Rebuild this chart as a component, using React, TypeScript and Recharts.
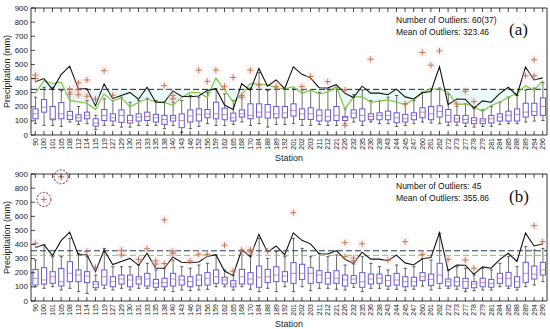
import {
  Area,
  Bar,
  ComposedChart,
  Line,
  ReferenceLine,
  XAxis,
  YAxis,
} from "recharts";

const FONT = '"Liberation Sans", Arial, sans-serif';

const stations = ["90", "100", "101", "105", "108", "112", "114", "115", "119", "127", "129", "130", "131", "133", "135", "138", "140", "143", "146", "152", "156", "159", "162", "165", "168", "170", "184", "188", "189", "192", "201", "202", "203", "211", "212", "221", "226", "232", "235", "236", "238", "243", "244", "245", "247", "260", "261", "262", "272", "273", "277", "278", "279", "281", "284", "285", "288", "289", "294", "296"];

// black line, same in both panels
const maxLine = [378, 400, 322, 428, 488, 328, 328, 208, 362, 258, 280, 302, 253, 338, 232, 232, 312, 275, 271, 276, 316, 328, 212, 181, 363, 316, 472, 346, 390, 328, 483, 430, 405, 335, 333, 357, 296, 265, 346, 297, 297, 285, 325, 270, 255, 299, 308, 483, 215, 255, 253, 190, 242, 232, 293, 338, 280, 481, 390, 405];

// green line, panel (a)
const greenA = [295, 385, 365, 375, 245, 235, 225, 180, 290, 240, 265, 200, 230, 255, 235, 230, 210, 265, 300, 300, 265, 405, 320, 235, 285, 365, 360, 355, 335, 326, 343, 296, 319, 291, 303, 343, 185, 268, 272, 232, 240, 249, 232, 216, 249, 303, 326, 326, 303, 216, 221, 202, 167, 209, 232, 268, 296, 350, 315, 385];

const lowA = [80, 68, 68, 61, 92, 75, 80, 38, 68, 68, 56, 56, 68, 68, 68, 45, 68, 20, 45, 61, 80, 68, 68, 75, 92, 68, 80, 56, 75, 75, 80, 68, 68, 75, 68, 68, 80, 92, 68, 92, 80, 80, 61, 68, 80, 92, 85, 80, 68, 68, 61, 56, 61, 61, 75, 80, 80, 92, 99, 103];
const q1A = [115, 162, 108, 115, 110, 99, 115, 63, 103, 99, 89, 85, 99, 103, 92, 75, 99, 52, 92, 99, 122, 115, 108, 99, 127, 115, 127, 120, 122, 122, 134, 110, 110, 99, 99, 103, 103, 122, 99, 108, 108, 108, 87, 92, 108, 122, 108, 127, 92, 92, 85, 80, 80, 85, 99, 99, 99, 127, 139, 139];
const medA = [150, 197, 115, 150, 139, 122, 139, 85, 139, 122, 139, 103, 127, 131, 122, 110, 120, 103, 134, 146, 150, 150, 146, 122, 150, 139, 162, 162, 150, 157, 174, 150, 150, 139, 131, 139, 122, 155, 139, 131, 139, 139, 122, 115, 139, 162, 150, 167, 139, 115, 110, 103, 99, 115, 127, 139, 146, 162, 167, 202];
const q3A = [185, 251, 202, 230, 167, 143, 162, 115, 181, 150, 178, 139, 150, 162, 146, 139, 139, 150, 178, 185, 181, 232, 190, 155, 178, 221, 221, 216, 202, 202, 221, 185, 193, 178, 178, 202, 131, 178, 185, 150, 157, 169, 157, 146, 157, 193, 202, 207, 181, 139, 139, 122, 115, 139, 150, 169, 185, 225, 225, 263];
const highA = [268, 338, 338, 315, 303, 202, 244, 139, 256, 244, 268, 232, 244, 260, 244, 232, 232, 244, 280, 268, 303, 326, 291, 244, 280, 333, 444, 315, 333, 326, 326, 319, 315, 303, 326, 333, 185, 286, 319, 244, 240, 268, 280, 221, 244, 303, 326, 333, 291, 202, 221, 185, 178, 202, 232, 268, 280, 319, 333, 373];

const lowB = [100, 90, 101, 78, 90, 66, 54, 78, 90, 78, 90, 78, 90, 90, 78, 78, 66, 78, 73, 78, 83, 101, 101, 78, 101, 83, 66, 90, 66, 101, 66, 101, 73, 90, 90, 83, 78, 97, 66, 90, 90, 83, 83, 73, 83, 106, 78, 90, 90, 83, 66, 73, 78, 78, 101, 90, 78, 101, 113, 137];
const q1B = [113, 120, 125, 106, 137, 137, 130, 94, 113, 101, 120, 101, 120, 106, 97, 101, 106, 113, 101, 109, 113, 125, 120, 101, 120, 120, 97, 130, 137, 137, 125, 153, 125, 130, 120, 125, 106, 125, 97, 120, 125, 106, 113, 101, 106, 144, 109, 125, 106, 106, 90, 94, 101, 97, 125, 106, 97, 132, 156, 184];
const medB = [160, 149, 172, 137, 196, 184, 177, 120, 172, 137, 156, 149, 156, 156, 125, 130, 156, 149, 137, 149, 161, 172, 149, 120, 172, 156, 168, 172, 184, 177, 196, 196, 196, 184, 161, 161, 149, 156, 137, 156, 161, 144, 149, 137, 137, 172, 153, 184, 137, 137, 137, 120, 130, 125, 161, 161, 137, 196, 191, 220];
const q3B = [224, 236, 208, 231, 279, 220, 208, 137, 220, 172, 184, 184, 172, 196, 153, 161, 196, 177, 172, 184, 201, 220, 168, 144, 224, 201, 248, 224, 243, 208, 272, 260, 236, 215, 203, 215, 184, 180, 201, 191, 191, 180, 196, 172, 168, 201, 191, 267, 156, 168, 161, 137, 161, 153, 196, 203, 172, 274, 248, 274];
const highB = [290, 397, 314, 314, 444, 338, 314, 184, 373, 243, 243, 243, 255, 267, 220, 232, 290, 243, 232, 255, 267, 326, 220, 184, 361, 314, 444, 302, 350, 314, 444, 373, 314, 338, 314, 326, 255, 262, 314, 267, 243, 220, 255, 232, 243, 302, 290, 480, 220, 243, 232, 184, 232, 220, 267, 314, 243, 385, 361, 373];

const outliersA: [string, number][] = [
  ["90", 425], ["90", 400], ["108", 325], ["108", 290], ["112", 370], ["112", 320], ["112", 285],
  ["114", 390], ["114", 275], ["115", 255], ["119", 455], ["127", 282], ["138", 350], ["140", 280],
  ["140", 256], ["152", 460], ["156", 380], ["159", 460], ["162", 345], ["165", 408], ["168", 280],
  ["168", 268], ["170", 460], ["184", 355], ["189", 345], ["202", 343], ["203", 415], ["212", 378],
  ["226", 319], ["226", 68], ["236", 537], ["245", 220], ["260", 585], ["261", 495], ["262", 596],
  ["273", 220], ["277", 310], ["278", 237], ["289", 420], ["294", 533], ["294", 420],
];

const outliersB: [string, number][] = [
  ["90", 408], ["100", 720], ["105", 880], ["114", 350], ["115", 238], ["129", 360], ["129", 326],
  ["131", 295], ["133", 370], ["135", 285], ["135", 262], ["138", 575], ["138", 265], ["140", 350],
  ["140", 338], ["146", 283], ["152", 331], ["156", 331], ["162", 395], ["165", 212], ["168", 360],
  ["170", 362], ["170", 355], ["188", 354], ["201", 626], ["226", 413], ["226", 314], ["232", 305],
  ["232", 285], ["235", 405], ["243", 290], ["245", 420], ["260", 331], ["272", 295], ["277", 290],
  ["278", 232], ["294", 534], ["296", 420],
];

const circledB = ["100", "105"];

const meanA = 323.46;
const meanB = 355.86;

function buildRows(
  low: number[], q1: number[], med: number[], q3: number[], high: number[],
  outliers: [string, number][], green?: number[], mean?: number,
) {
  return stations.map((station, i) => {
    const outs = outliers.filter((o) => o[0] === station).map((o) => o[1]);
    const row: any = {
      station,
      max: maxLine[i],
      whisker: [low[i], high[i]],
      q1: q1[i],
      med: med[i],
      q3: q3[i],
      o0: outs[0] ?? null,
      o1: outs[1] ?? null,
      o2: outs[2] ?? null,
    };
    if (green && mean != null) {
      row.green = green[i];
      row.band = [Math.min(green[i], mean), Math.max(green[i], mean)];
    }
    return row;
  });
}

const rowsA = buildRows(lowA, q1A, medA, q3A, highA, outliersA, greenA, meanA);
const rowsB = buildRows(lowB, q1B, medB, q3B, highB, outliersB);

const yTicks = [0, 100, 200, 300, 400, 500, 600, 700, 800, 900];

function BoxShape(props: any) {
  const { x, y, width, height, payload } = props;
  if (x == null || y == null) return <g />;
  const [lo, hi] = payload.whisker;
  const top = Math.min(y, y + height);
  const h = Math.abs(height);
  const k = h / (hi - lo);
  const py = (v: number) => top + (hi - v) * k;
  const cx = x + width / 2;
  const bx = cx - 2.6;
  return (
    <g>
      <line x1={cx} x2={cx} y1={py(hi)} y2={py(payload.q3)} stroke="#333" strokeWidth={0.7} />
      <line x1={cx} x2={cx} y1={py(payload.q1)} y2={py(lo)} stroke="#333" strokeWidth={0.7} />
      <line x1={cx - 1.6} x2={cx + 1.6} y1={py(hi)} y2={py(hi)} stroke="#333" strokeWidth={0.8} />
      <line x1={cx - 1.6} x2={cx + 1.6} y1={py(lo)} y2={py(lo)} stroke="#333" strokeWidth={0.8} />
      <rect x={bx} y={py(payload.q3)} width={5.2} height={py(payload.q1) - py(payload.q3)} fill="none" stroke="#6a5ad8" strokeWidth={1} />
      <line x1={bx} x2={bx + 5.2} y1={py(payload.med)} y2={py(payload.med)} stroke="#b85a6a" strokeWidth={0.7} />
    </g>
  );
}

const makePlus = (circled: string[]) => (props: any) => {
  const { cx, cy, value, payload, index } = props;
  if (cx == null || cy == null || value == null || Number.isNaN(cy)) return <g key={index} />;
  return (
    <g key={index}>
      <rect x={cx - 4.5} y={cy - 4.5} width={9} height={9} fill="#f6c6d2" opacity={0.22} />
      <line x1={cx - 3} x2={cx + 3} y1={cy} y2={cy} stroke="#b8703c" strokeWidth={0.9} />
      <line x1={cx} x2={cx} y1={cy - 3} y2={cy + 3} stroke="#b8703c" strokeWidth={0.9} />
      {circled.includes(payload.station) && (
        <circle cx={cx} cy={cy} r={7} fill="none" stroke="#6b2030" strokeWidth={1} strokeDasharray="2 1.5" />
      )}
    </g>
  );
};

function BottomTick(props: any) {
  const { x, y, payload } = props;
  return (
    <g>
      <line x1={x} x2={x} y1={y} y2={y - 4} stroke="#000" strokeWidth={0.7} />
      <text transform={`translate(${x + 2.5},${y + 3}) rotate(-90)`} textAnchor="end" fontSize={7} fontFamily={FONT} fill="#222">
        {payload.value}
      </text>
    </g>
  );
}

function TopTick(props: any) {
  const { x, y } = props;
  return <line x1={x} x2={x} y1={y} y2={y + 4} stroke="#000" strokeWidth={0.7} />;
}

function LeftTick(props: any) {
  const { x, y, payload } = props;
  return (
    <g>
      <line x1={x} x2={x + 4} y1={y} y2={y} stroke="#000" strokeWidth={0.7} />
      <text x={x - 3} y={y} textAnchor="end" dominantBaseline="central" fontSize={8} fontFamily={FONT} fill="#222">
        {payload.value}
      </text>
    </g>
  );
}

function RightTick(props: any) {
  const { x, y } = props;
  return <line x1={x} x2={x - 4} y1={y} y2={y} stroke="#000" strokeWidth={0.7} />;
}

function YLabel(props: any) {
  const { viewBox } = props;
  const cx = viewBox.x + 7;
  const cy = viewBox.y + viewBox.height / 2;
  return (
    <text transform={`translate(${cx},${cy}) rotate(-90)`} textAnchor="middle" dominantBaseline="central" fontSize={9} fontFamily={FONT} fill="#222">
      Precipitation (mm)
    </text>
  );
}

function Panel({ rows, height, bottomH, withGreen, circled, stationOffset }: any) {
  return (
    <ComposedChart width={550} height={height} data={rows} margin={{ top: 0, right: 0, bottom: 0, left: 0 }}>
      <XAxis
        dataKey="station"
        interval={0}
        height={bottomH}
        tickSize={0}
        tickMargin={0}
        tick={<BottomTick />}
        axisLine={{ stroke: "#000", strokeWidth: 0.8 }}
        label={{ value: "Station", position: "insideBottom", offset: stationOffset, fontSize: 9, fontFamily: FONT, fill: "#222" }}
      />
      <XAxis
        xAxisId="top"
        orientation="top"
        dataKey="station"
        interval={0}
        height={8}
        tickSize={0}
        tickMargin={0}
        tick={<TopTick />}
        axisLine={{ stroke: "#000", strokeWidth: 0.8 }}
      />
      <YAxis
        domain={[0, 900]}
        ticks={yTicks}
        interval={0}
        width={31}
        tickSize={0}
        tickMargin={0}
        tick={<LeftTick />}
        axisLine={{ stroke: "#000", strokeWidth: 0.8 }}
        label={{ content: YLabel }}
      />
      <YAxis
        yAxisId="right"
        orientation="right"
        domain={[0, 900]}
        ticks={yTicks}
        interval={0}
        width={3}
        tickSize={0}
        tickMargin={0}
        tick={<RightTick />}
        axisLine={{ stroke: "#000", strokeWidth: 0.8 }}
      />
      {withGreen && (
        <Area dataKey="band" stroke="none" fill="#d2f4f2" fillOpacity={0.45} isAnimationActive={false} activeDot={false} />
      )}
      <Bar dataKey="whisker" barSize={5} shape={<BoxShape />} isAnimationActive={false} />
      {withGreen ? (
        <ReferenceLine y={meanA} stroke="#222" strokeWidth={1} strokeDasharray="6 3" />
      ) : (
        <ReferenceLine y={meanB} stroke="#1d3a55" strokeWidth={1} strokeDasharray="6 3" />
      )}
      {!withGreen && <ReferenceLine y={meanA} stroke="#8cc63f" strokeWidth={1} strokeDasharray="6 3" />}
      {withGreen && (
        <Line dataKey="green" stroke="#7cc83a" strokeWidth={1.2} dot={false} activeDot={false} isAnimationActive={false} />
      )}
      <Line dataKey="max" stroke="#111" strokeWidth={1.1} dot={false} activeDot={false} isAnimationActive={false} />
      {["o0", "o1", "o2"].map((k) => (
        <Line key={k} dataKey={k} stroke="none" dot={makePlus(circled)} activeDot={false} isAnimationActive={false} />
      ))}
    </ComposedChart>
  );
}

const textStyle: any = { position: "absolute", left: 396, fontFamily: FONT, fontSize: 8.5, lineHeight: "12px", color: "#111", whiteSpace: "nowrap" };
const tagStyle: any = { position: "absolute", left: 509, fontFamily: '"Liberation Serif", "Times New Roman", serif', fontSize: 17, lineHeight: "20px", color: "#111" };

export default function App() {
  return (
    <div style={{ position: "fixed", left: 0, top: 0, width: 550, height: 329, background: "#fff", overflow: "hidden" }}>
      <div style={{ position: "absolute", left: 0, top: 0 }}>
        <Panel rows={rowsA} height={165} bottomH={30} withGreen circled={[]} stationOffset={4} />
      </div>
      <div style={{ position: "absolute", left: 0, top: 166 }}>
        <Panel rows={rowsB} height={163} bottomH={28} withGreen={false} circled={circledB} stationOffset={2} />
      </div>
      <div style={{ ...textStyle, top: 14 }}>
        Number of Outliers: 60(37)
        <br />
        Mean of Outliers: 323.46
      </div>
      <div style={{ ...tagStyle, top: 20 }}>(a)</div>
      <div style={{ ...textStyle, top: 180 }}>
        Number of Outliers: 45
        <br />
        Mean of Outliers: 355.86
      </div>
      <div style={{ ...tagStyle, top: 187 }}>(b)</div>
    </div>
  );
}
